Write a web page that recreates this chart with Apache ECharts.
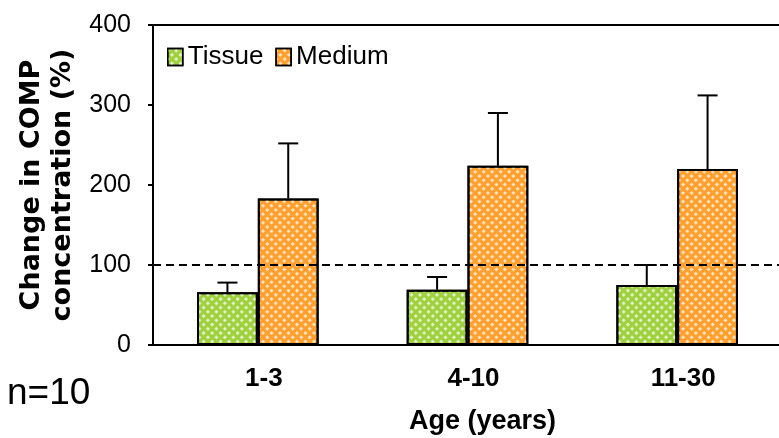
<!DOCTYPE html>
<html>
<head>
<meta charset="utf-8">
<script src="https://cdn.jsdelivr.net/npm/echarts@6/dist/echarts.min.js"></script>
<style>
  html, body { margin: 0; padding: 0; background: #fff; }
  #chart { width: 779px; height: 438px; }
</style>
</head>
<body>
<div id="chart"></div>
<script>
// Age groups on the x axis
const ageGroups = ['1-3', '4-10', '11-30'];
// Mean change in COMP concentration (%) and standard deviations
const tissueMean = [66, 69, 75];
const tissueSD = [12, 16, 25];
const mediumMean = [183, 224, 220];
const mediumSD = [69, 66, 92];
// Value axis ticks
const yTicks = [0, 100, 200, 300, 400];
const referenceLevel = 100;

const SANS = '"Liberation Sans", Arial, sans-serif';
const BAR_FRACTION = 0.29;

function hatch(color) {
  return {
    color: color,
    borderColor: '#000',
    borderWidth: 2,
    decal: {
      symbol: 'rect',
      symbolSize: 0.9,
      color: 'rgba(255,255,255,0.8)',
      dashArrayX: [3, 3],
      dashArrayY: [3, 3],
      rotation: Math.PI / 4
    }
  };
}

// Upper whiskers: a stem from the bar top and a short cap
function errorSeries(means, sds, side) {
  return {
    type: 'custom',
    z: 5,
    silent: true,
    data: means.map((m, i) => [i, m, sds[i]]),
    renderItem(params, api) {
      const band = api.size([1, 0])[0];
      const dx = side * band * BAR_FRACTION / 2;
      const base = api.coord([api.value(0), api.value(1)]);
      const top = api.coord([api.value(0), api.value(1) + api.value(2)]);
      const x = base[0] + dx;
      const style = { stroke: '#000', lineWidth: 2 };
      return {
        type: 'group',
        children: [
          { type: 'line', shape: { x1: x, y1: base[1], x2: x, y2: top[1] }, style },
          { type: 'line', shape: { x1: x - 10, y1: top[1], x2: x + 10, y2: top[1] }, style }
        ]
      };
    }
  };
}

const chart = echarts.init(document.getElementById('chart'));
chart.setOption({
  animation: false,
  backgroundColor: '#fff',
  grid: {
    left: 153, width: 629, top: 25, height: 320,
    outerBoundsMode: 'none'
  },
  legend: {
    left: 167, top: 44, padding: 0,
    icon: 'rect',
    itemWidth: 15, itemHeight: 17, itemGap: 12,
    textStyle: { fontFamily: SANS, fontSize: 26, color: '#000' },
    itemStyle: { borderColor: '#000', borderWidth: 1.5 },
    data: ['Tissue', 'Medium']
  },
  xAxis: [
    {
      type: 'category',
      data: ageGroups,
      name: 'Age (years)',
      nameLocation: 'middle',
      nameGap: 63,
      nameTextStyle: {
        fontFamily: SANS, fontSize: 27, fontWeight: 'bold', color: '#000',
        padding: [0, 0, 0, 30]
      },
      axisLine: { lineStyle: { color: '#000', width: 2 } },
      axisTick: { show: false },
      axisLabel: {
        fontFamily: SANS, fontSize: 26, fontWeight: 'bold', color: '#000',
        margin: 21, padding: [0, 0, 0, 12]
      }
    },
    {
      // frame line along the top of the plot area
      type: 'category',
      data: ageGroups,
      position: 'top',
      axisLine: { show: true, lineStyle: { color: '#000', width: 2 } },
      axisTick: { show: false },
      axisLabel: { show: false }
    }
  ],
  yAxis: {
    type: 'value',
    min: yTicks[0], max: yTicks[yTicks.length - 1], interval: 100,
    name: 'Change in COMP\nconcentration (%)',
    nameLocation: 'middle',
    nameGap: 69,
    nameTextStyle: {
      fontFamily: '"DejaVu Sans", sans-serif', fontSize: 27, fontWeight: 'bold',
      color: '#000', lineHeight: 31, align: 'center'
    },
    axisLine: { show: true, lineStyle: { color: '#000', width: 2 } },
    axisTick: { show: true, inside: false, length: 5, lineStyle: { color: '#000', width: 2 } },
    axisLabel: { fontFamily: SANS, fontSize: 25, color: '#000', margin: 22 },
    splitLine: { show: false }
  },
  series: [
    {
      name: 'Tissue', type: 'bar', data: tissueMean,
      barWidth: (BAR_FRACTION * 100) + '%', barGap: '0%',
      itemStyle: hatch('#9fd13f')
    },
    {
      name: 'Medium', type: 'bar', data: mediumMean,
      barWidth: (BAR_FRACTION * 100) + '%', barGap: '0%',
      itemStyle: hatch('#ffa02e'),
      markLine: {
        silent: true, symbol: 'none', z: 6,
        label: { show: false },
        lineStyle: { color: '#000', width: 2, type: [8, 5] },
        data: [{ yAxis: referenceLevel }]
      }
    },
    errorSeries(tissueMean, tissueSD, -1),
    errorSeries(mediumMean, mediumSD, 1)
  ],
  graphic: [{
    type: 'text', left: 7, top: 375,
    style: { text: 'n=10', font: '37px "Liberation Sans", sans-serif', fill: '#000' }
  }]
});
</script>
</body>
</html>
